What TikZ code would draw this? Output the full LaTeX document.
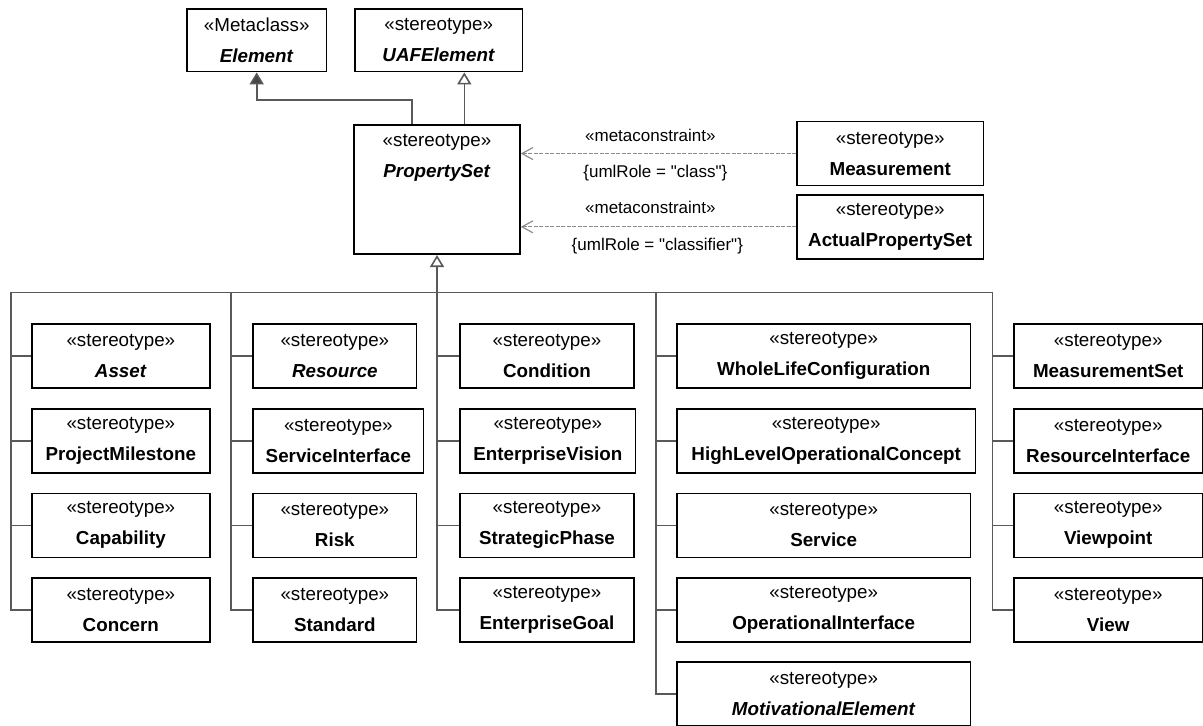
\documentclass[tikz,border=0pt]{standalone}
\usepackage{fontspec}
\newfontfamily\uaffont{Liberation Sans}
\usetikzlibrary{arrows.meta,positioning}

\begin{document}
\begin{tikzpicture}[x=1pt,y=-1pt,
  stereobox/.style={draw=black, line width=1.7pt, fill=white, anchor=north west,
    minimum width=#1, minimum height=64pt, inner sep=0pt, align=center,
    font=\uaffont\fontsize{18.8}{31}\selectfont},
  stereotext/.style={inner sep=0pt, align=center, font=\uaffont\fontsize{18.8}{31}\selectfont},
  conn/.style={draw=black!65, line width=1.6pt},
  gen/.style={conn, -{Triangle[open, length=12pt, width=14pt]}},
  genfill/.style={conn, -{Triangle[length=12pt, width=14pt, fill=black!72]}},
  meta/.style={draw=black!45, line width=1.2pt, dash pattern=on 4pt off 1.5pt,
    -{Straight Barb[length=11pt, width=12pt, line width=1.2pt]}},
  lbl/.style={font=\uaffont\fontsize{17}{20}\selectfont, inner sep=0pt, text=black}]
\useasboundingbox (0,0) rectangle (1203,726);

\node[stereobox=139.7pt, minimum height=62.7pt] (el) at (186,8) {«Metaclass»\\\textbf{\textit{Element}}};
\node[stereobox=167.7pt, minimum height=62.7pt] (uaf) at (354,8) {«stereotype»\\\textbf{\textit{UAFElement}}};
\node[stereobox=165.7pt, minimum height=129.3pt] (ps) at (353.3,124) {};
\node[stereotext, below=10pt of ps.north] (pstxt) {«stereotype»\\\textbf{\textit{PropertySet}}};
\node[stereobox=186.7pt] (meas) at (796,120.7) {«stereotype»\\\textbf{Measurement}};
\node[stereobox=186.7pt] (aps) at (796,194) {«stereotype»\\\textbf{ActualPropertySet}};

\path (ps.north west) ++(58.4,0) coordinate (pe);
\path (ps.north west) ++(111,0) coordinate (pu);
\draw[genfill] (pe) -- ++(0,-24) -| (el.south);
\draw[gen] (pu) -- (pu |- uaf.south);

\draw[meta] (meas.west) -- (meas.west -| ps.east)
  node[lbl, midway, yshift=18pt, xshift=-8pt] {«metaconstraint»}
  node[lbl, midway, yshift=-20pt, xshift=-3pt] {\{umlRole = "class"\}};
\draw[meta] (aps.west) -- (aps.west -| ps.east)
  node[lbl, midway, yshift=19pt, xshift=-8pt] {«metaconstraint»}
  node[lbl, midway, yshift=-19pt, xshift=-1pt] {\{umlRole = "classifier"\}};

\node[stereobox=178pt] (asset) at (31,323.3) {«stereotype»\\\textbf{\textit{Asset}}};
\node[stereobox=178pt] (pm) at (31,408) {«stereotype»\\\textbf{ProjectMilestone}};
\node[stereobox=178pt] (cap) at (31,492.5) {«stereotype»\\\textbf{Capability}};
\node[stereobox=178pt] (conc) at (31,577) {«stereotype»\\\textbf{Concern}};

\node[stereobox=163.4pt] (res) at (252.3,323.3) {«stereotype»\\\textbf{\textit{Resource}}};
\node[stereobox=170.4pt] (si) at (252.3,408) {«stereotype»\\\textbf{ServiceInterface}};
\node[stereobox=163.4pt] (risk) at (252.3,492.5) {«stereotype»\\\textbf{Risk}};
\node[stereobox=163.4pt] (std) at (252.3,577) {«stereotype»\\\textbf{Standard}};

\node[stereobox=173.7pt] (cond) at (459.3,323.3) {«stereotype»\\\textbf{Condition}};
\node[stereobox=175.4pt] (ev) at (459.3,408) {«stereotype»\\\textbf{EnterpriseVision}};
\node[stereobox=173.7pt] (sp) at (459.3,492.5) {«stereotype»\\\textbf{StrategicPhase}};
\node[stereobox=173.7pt] (eg) at (459.3,577) {«stereotype»\\\textbf{EnterpriseGoal}};

\node[stereobox=293.7pt] (wlc) at (676,323.3) {«stereotype»\\\textbf{WholeLifeConfiguration}};
\node[stereobox=298.7pt] (hloc) at (676,408) {«stereotype»\\\textbf{HighLevelOperationalConcept}};
\node[stereobox=293.7pt] (svc) at (676,492.5) {«stereotype»\\\textbf{Service}};
\node[stereobox=293.7pt] (oi) at (676,577) {«stereotype»\\\textbf{OperationalInterface}};
\node[stereobox=293.7pt] (me) at (676,661) {«stereotype»\\\textbf{\textit{MotivationalElement}}};

\node[stereobox=188.2pt] (ms) at (1013.3,323.3) {«stereotype»\\\textbf{MeasurementSet}};
\node[stereobox=188.2pt] (ri) at (1013.3,408) {«stereotype»\\\textbf{ResourceInterface}};
\node[stereobox=188.2pt] (vp) at (1013.3,492.5) {«stereotype»\\\textbf{Viewpoint}};
\node[stereobox=188.2pt] (view) at (1013.3,577) {«stereotype»\\\textbf{View}};

\coordinate (b1) at (10.7,292.3);
\coordinate (b2) at (231,292.3);
\coordinate (b3) at (ps.south |- b1);
\coordinate (b4) at (655.7,292.3);
\coordinate (b5) at (992.3,292.3);
\draw[conn] (b1) -- (b5);
\draw[gen] (b3) -- (ps.south);

\draw[conn] (asset.west) -| (b1);
\draw[conn] (pm.west) -| (b1);
\draw[conn] (cap.west) -| (b1);
\draw[conn] (conc.west) -| (b1);
\draw[conn] (res.west) -| (b2);
\draw[conn] (si.west) -| (b2);
\draw[conn] (risk.west) -| (b2);
\draw[conn] (std.west) -| (b2);
\draw[conn] (cond.west) -| (b3);
\draw[conn] (ev.west) -| (b3);
\draw[conn] (sp.west) -| (b3);
\draw[conn] (eg.west) -| (b3);
\draw[conn] (wlc.west) -| (b4);
\draw[conn] (hloc.west) -| (b4);
\draw[conn] (svc.west) -| (b4);
\draw[conn] (oi.west) -| (b4);
\draw[conn] (me.west) -| (b4);
\draw[conn] (ms.west) -| (b5);
\draw[conn] (ri.west) -| (b5);
\draw[conn] (vp.west) -| (b5);
\draw[conn] (view.west) -| (b5);
\end{tikzpicture}
\end{document}
